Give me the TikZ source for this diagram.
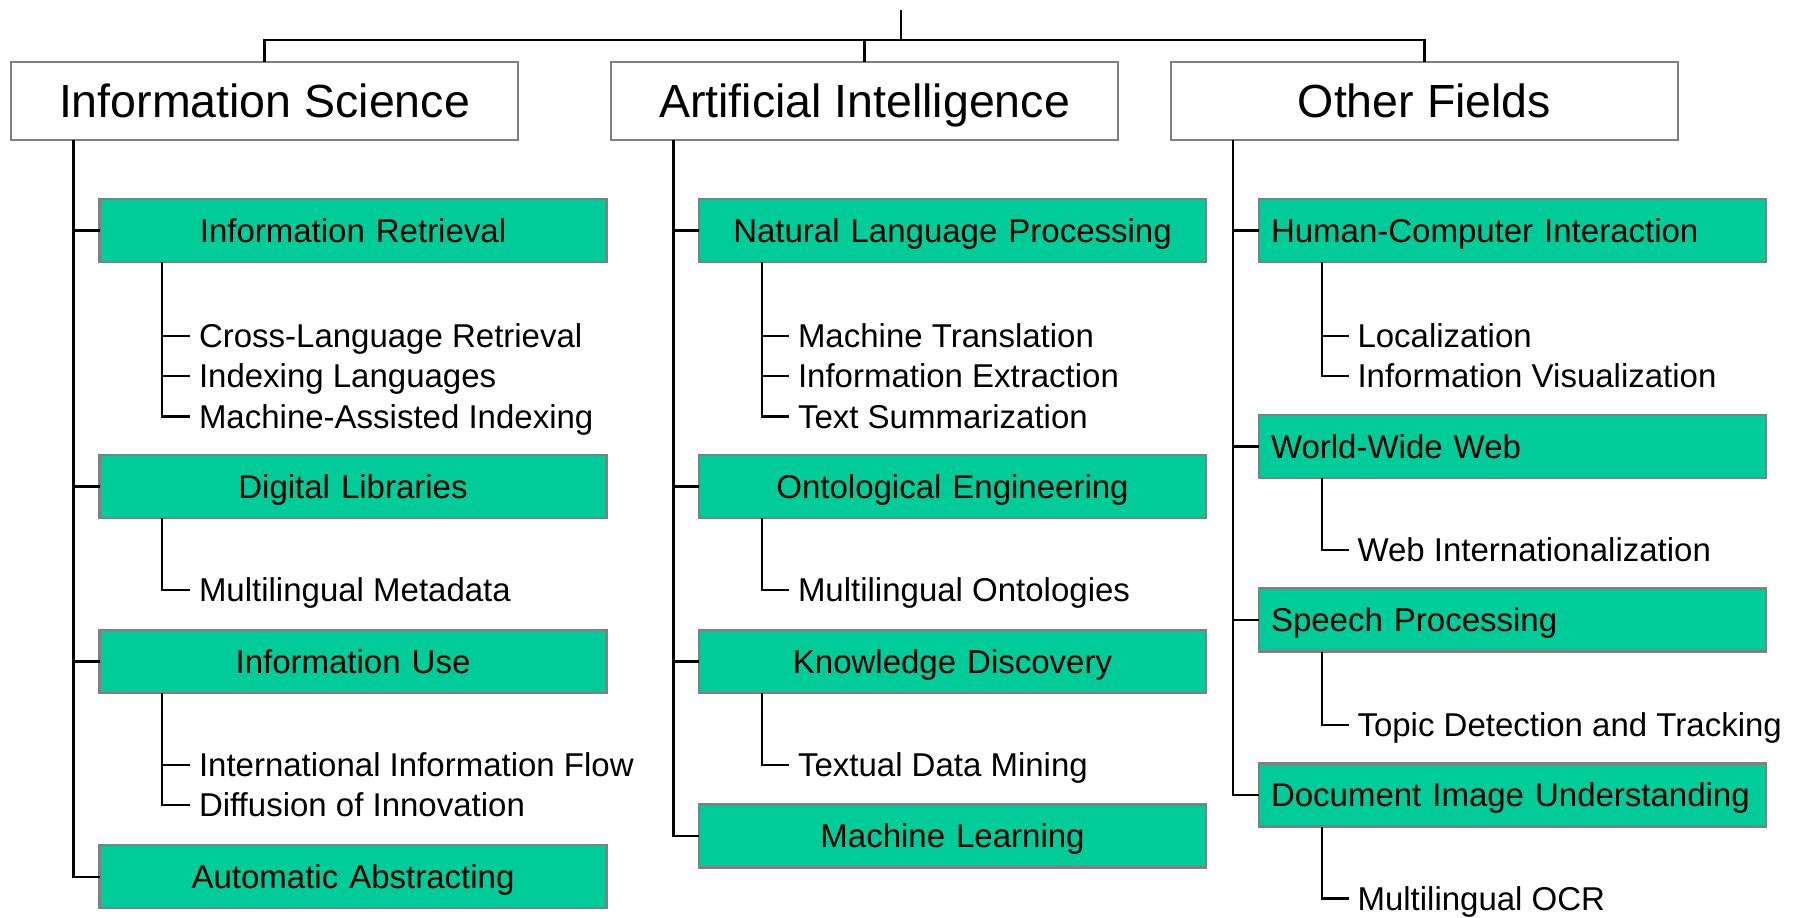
\documentclass[tikz,border=0pt]{standalone}
\usepackage{fontspec}
\setmainfont{Liberation Sans}
\usetikzlibrary{calc}
\definecolor{topicgreen}{RGB}{0,204,153}
\definecolor{framegray}{RGB}{128,128,128}

\begin{document}
\begin{tikzpicture}[x=1pt,y=-1pt,
  field/.style={draw=framegray, line width=2.2pt, fill=white, outer sep=0pt,
    minimum width=507pt, minimum height=78pt, inner sep=0pt,
    font=\fontsize{46.5}{56}\selectfont, text height=33.3pt, text depth=0pt},
  topic/.style={draw=framegray, line width=2.2pt, fill=topicgreen, outer sep=0pt,
    minimum height=63pt, text width=483pt, inner xsep=12pt, inner ysep=0pt,
    font=\fontsize{33}{40}\selectfont, text height=23.6pt, text depth=0pt,
    align=center},
  topicleft/.style={topic, align=left},
  leaf/.style={anchor=west, inner xsep=9pt, inner ysep=0pt, outer sep=0pt,
    font=\fontsize{33}{40}\selectfont, text height=23.6pt, text depth=0pt},
  link/.style={line width=2.2pt, black}]

\useasboundingbox (0,0) rectangle (1804,918);

% top-level fields
\node[field] (IS) at (264.5,101) {Information Science};
\node[field] (AI) at (864.5,101) {Artificial Intelligence};
\node[field] (OF) at (1424.5,101) {Other Fields};

% root connector
\coordinate (root) at (900.8,10);
\coordinate (hub) at (900.8,40);
\draw[link] (root) -- (hub);
\draw[link] (IS.north) |- (hub) -| (OF.north);
\draw[link] (AI.north) -- (AI.north |- hub);

% Information Science column
\node[topic] (IR) at (353,230.5) {Information Retrieval};
\node[topic] (DL) at (353,486.5) {Digital Libraries};
\node[topic] (IU) at (353,661.5) {Information Use};
\node[topic] (AA) at (353,876.7) {Automatic Abstracting};

\coordinate (IStrunk) at ($(IS.south west)+(62.5,0)$);
\foreach \t in {IR,DL,IU,AA} \draw[link] (IStrunk) |- (\t.west);

\node[leaf] (clr) at (190,336) {Cross-Language Retrieval};
\node[leaf] (il)  at (190,376) {Indexing Languages};
\node[leaf] (mai) at (190,416.5) {Machine-Assisted Indexing};
\node[leaf] (mm)  at (190,590) {Multilingual Metadata};
\node[leaf] (iif) at (190,765) {International Information Flow};
\node[leaf] (doi) at (190,805) {Diffusion of Innovation};

\foreach \l in {clr,il,mai} \draw[link] ($(IR.south west)+(62.7,0)$) |- (\l.west);
\draw[link] ($(DL.south west)+(62.7,0)$) |- (mm.west);
\foreach \l in {iif,doi} \draw[link] ($(IU.south west)+(62.7,0)$) |- (\l.west);

% Artificial Intelligence column
\node[topic] (NLP) at (952.5,230.5) {Natural Language Processing};
\node[topic] (OE)  at (952.5,486.5) {Ontological Engineering};
\node[topic] (KD)  at (952.5,661.5) {Knowledge Discovery};
\node[topic] (ML)  at (952.5,836) {Machine Learning};

\coordinate (AItrunk) at ($(AI.south west)+(62.5,0)$);
\foreach \t in {NLP,OE,KD,ML} \draw[link] (AItrunk) |- (\t.west);

\node[leaf] (mt)  at (789,336) {Machine Translation};
\node[leaf] (ie)  at (789,376) {Information Extraction};
\node[leaf] (ts)  at (789,416.5) {Text Summarization};
\node[leaf] (mo)  at (789,590) {Multilingual Ontologies};
\node[leaf] (tdm) at (789,765) {Textual Data Mining};

\foreach \l in {mt,ie,ts} \draw[link] ($(NLP.south west)+(62.7,0)$) |- (\l.west);
\draw[link] ($(OE.south west)+(62.7,0)$) |- (mo.west);
\draw[link] ($(KD.south west)+(62.7,0)$) |- (tdm.west);

% Other Fields column
\node[topicleft] (HCI) at (1512.5,230.5) {Human-Computer Interaction};
\node[topicleft] (WWW) at (1512.5,446.4) {World-Wide Web};
\node[topicleft] (SP)  at (1512.5,620) {Speech Processing};
\node[topicleft] (DIU) at (1512.5,795) {Document Image Understanding};

\coordinate (OFtrunk) at ($(OF.south west)+(62,0)$);
\foreach \t in {HCI,WWW,SP,DIU} \draw[link] (OFtrunk) |- (\t.west);

\node[leaf] (loc)  at (1348.5,336) {Localization};
\node[leaf] (iv)   at (1348.5,376) {Information Visualization};
\node[leaf] (wi)   at (1348.5,550) {Web Internationalization};
\node[leaf] (tdt)  at (1348.5,725) {Topic Detection and Tracking};
\node[leaf] (mocr) at (1348.5,898.5) {Multilingual OCR};

\foreach \l in {loc,iv} \draw[link] ($(HCI.south west)+(62.7,0)$) |- (\l.west);
\draw[link] ($(WWW.south west)+(62.7,0)$) |- (wi.west);
\draw[link] ($(SP.south west)+(62.7,0)$) |- (tdt.west);
\draw[link] ($(DIU.south west)+(62.7,0)$) |- (mocr.west);

\end{tikzpicture}
\end{document}
